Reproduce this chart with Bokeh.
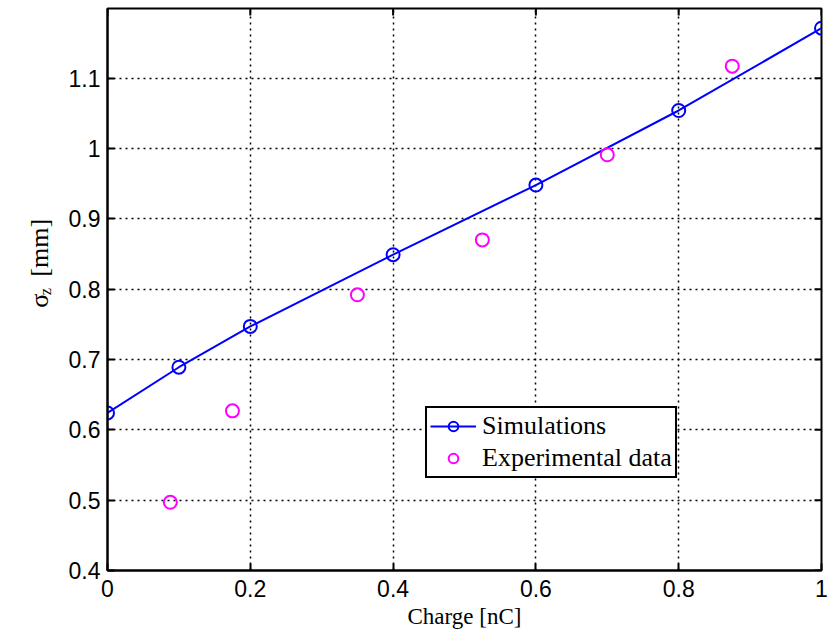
import math
from bokeh.plotting import figure
from bokeh.layouts import row
from bokeh.models import (Range1d, FixedTicker, CustomJSTickFormatter,
                          Legend, LegendItem)
from bokeh.core.properties import value
from bokeh.embed import file_html
from bokeh.resources import INLINE

# Simulated beam size versus bunch charge
sim_charge = [0.0, 0.1, 0.2, 0.4, 0.6, 0.8, 1.0]
sim_sigma = [0.624, 0.689, 0.747, 0.849, 0.948, 1.054, 1.171]

# Measured beam size
exp_charge = [0.088, 0.175, 0.350, 0.525, 0.700, 0.875]
exp_sigma = [0.497, 0.627, 0.792, 0.870, 0.991, 1.117]

x_ticks = [0.0, 0.2, 0.4, 0.6, 0.8, 1.0]
y_ticks = [0.4, 0.5, 0.6, 0.7, 0.8, 0.9, 1.0, 1.1]

X_MIN, X_MAX = 0.0, 1.0
Y_MIN, Y_MAX = 0.4, 1.199

BLUE = "#0000ff"
MAGENTA = "#ff00ff"
SERIF = "Liberation Serif"
SANS = "Liberation Sans"

# ---- main axes -------------------------------------------------------------
p = figure(width=772, height=635, output_backend="svg", toolbar_location=None,
           x_range=Range1d(X_MIN, X_MAX), y_range=Range1d(Y_MIN, Y_MAX),
           min_border_left=47, min_border_right=11, min_border_top=8,
           min_border_bottom=65, background_fill_color="white",
           border_fill_color="white")
p.frame_width = 714
p.frame_height = 562
p.outline_line_color = "black"
p.outline_line_width = 2

fmt = CustomJSTickFormatter(code="return (Math.round(tick*10)/10).toString();")

for ax, ticks in ((p.xaxis[0], x_ticks), (p.yaxis[0], y_ticks)):
    ax.ticker = FixedTicker(ticks=ticks)
    ax.formatter = fmt
    ax.major_tick_in = 7
    ax.major_tick_out = 0
    ax.minor_tick_in = 0
    ax.minor_tick_out = 0
    ax.major_tick_line_width = 2
    ax.axis_line_width = 2
    ax.axis_line_color = "black"
    ax.major_tick_line_color = "black"
    ax.major_label_text_font = SANS
    ax.major_label_text_font_size = "23px"
    ax.major_label_text_color = "black"

p.xaxis.major_label_standoff = 9
p.yaxis.major_label_standoff = 7

p.xaxis.axis_label = "Charge [nC]"
p.xaxis.axis_label_text_font = SERIF
p.xaxis.axis_label_text_font_style = "normal"
p.xaxis.axis_label_text_font_size = "23px"
p.xaxis.axis_label_text_color = "black"
p.xaxis.axis_label_standoff = 4

for g, ticks in ((p.xgrid[0], x_ticks), (p.ygrid[0], y_ticks)):
    g.ticker = FixedTicker(ticks=ticks)
    g.grid_line_color = "black"
    g.grid_line_dash = "2 4"
    g.grid_line_width = 1.5

# inward ticks mirrored on the top and right edges (half of each dash is
# clipped away by the frame, leaving a 7 px tick inside)
p.scatter(x_ticks, [Y_MAX] * len(x_ticks), marker="dash", angle=math.pi / 2,
          size=14, line_color="black", line_width=2)
p.scatter([X_MAX] * len(y_ticks), y_ticks, marker="dash", size=14,
          line_color="black", line_width=2)

sim_line = p.line(sim_charge, sim_sigma, line_color=BLUE, line_width=2)
sim_pts = p.scatter(sim_charge, sim_sigma, marker="circle", size=13,
                    fill_color=None, line_color=BLUE, line_width=2)
exp_pts = p.scatter(exp_charge, exp_sigma, marker="circle", size=13,
                    fill_color=None, line_color=MAGENTA, line_width=2)

legend = Legend(items=[LegendItem(label="Simulations", renderers=[sim_line, sim_pts]),
                       LegendItem(label="Experimental data", renderers=[exp_pts])],
                location=(318, 92), orientation="vertical",
                label_text_font=SERIF, label_text_font_size="26px",
                label_text_color="black", border_line_color="black",
                border_line_width=2, border_line_alpha=1,
                background_fill_color="white",
                background_fill_alpha=1, glyph_width=46, glyph_height=24,
                label_height=24, spacing=2, padding=3, margin=0,
                label_standoff=6)
p.add_layout(legend, "center")

# ---- rotated y-axis title: sigma_z [mm] ------------------------------------
ylab = figure(width=60, height=635, output_backend="svg", toolbar_location=None,
              x_range=Range1d(0, 60), y_range=Range1d(0, 635),
              min_border=0, background_fill_color="white",
              border_fill_color="white", outline_line_color=None)
ylab.axis.visible = False
ylab.grid.visible = False
common = dict(angle=math.pi / 2, text_color="black", text_font=value(SERIF),
              text_baseline="alphabetic", text_align="left")
ylab.text(x=[39], y=[297], text=["σ"], text_font_size="26px", **common)
ylab.text(x=[45], y=[311], text=["z"], text_font_size="16px", **common)
ylab.text(x=[39], y=[332], text=["[mm]"], text_font_size="26px", **common)

layout = row(ylab, p, spacing=0)
open("out.html", "w").write(file_html(layout, INLINE))
